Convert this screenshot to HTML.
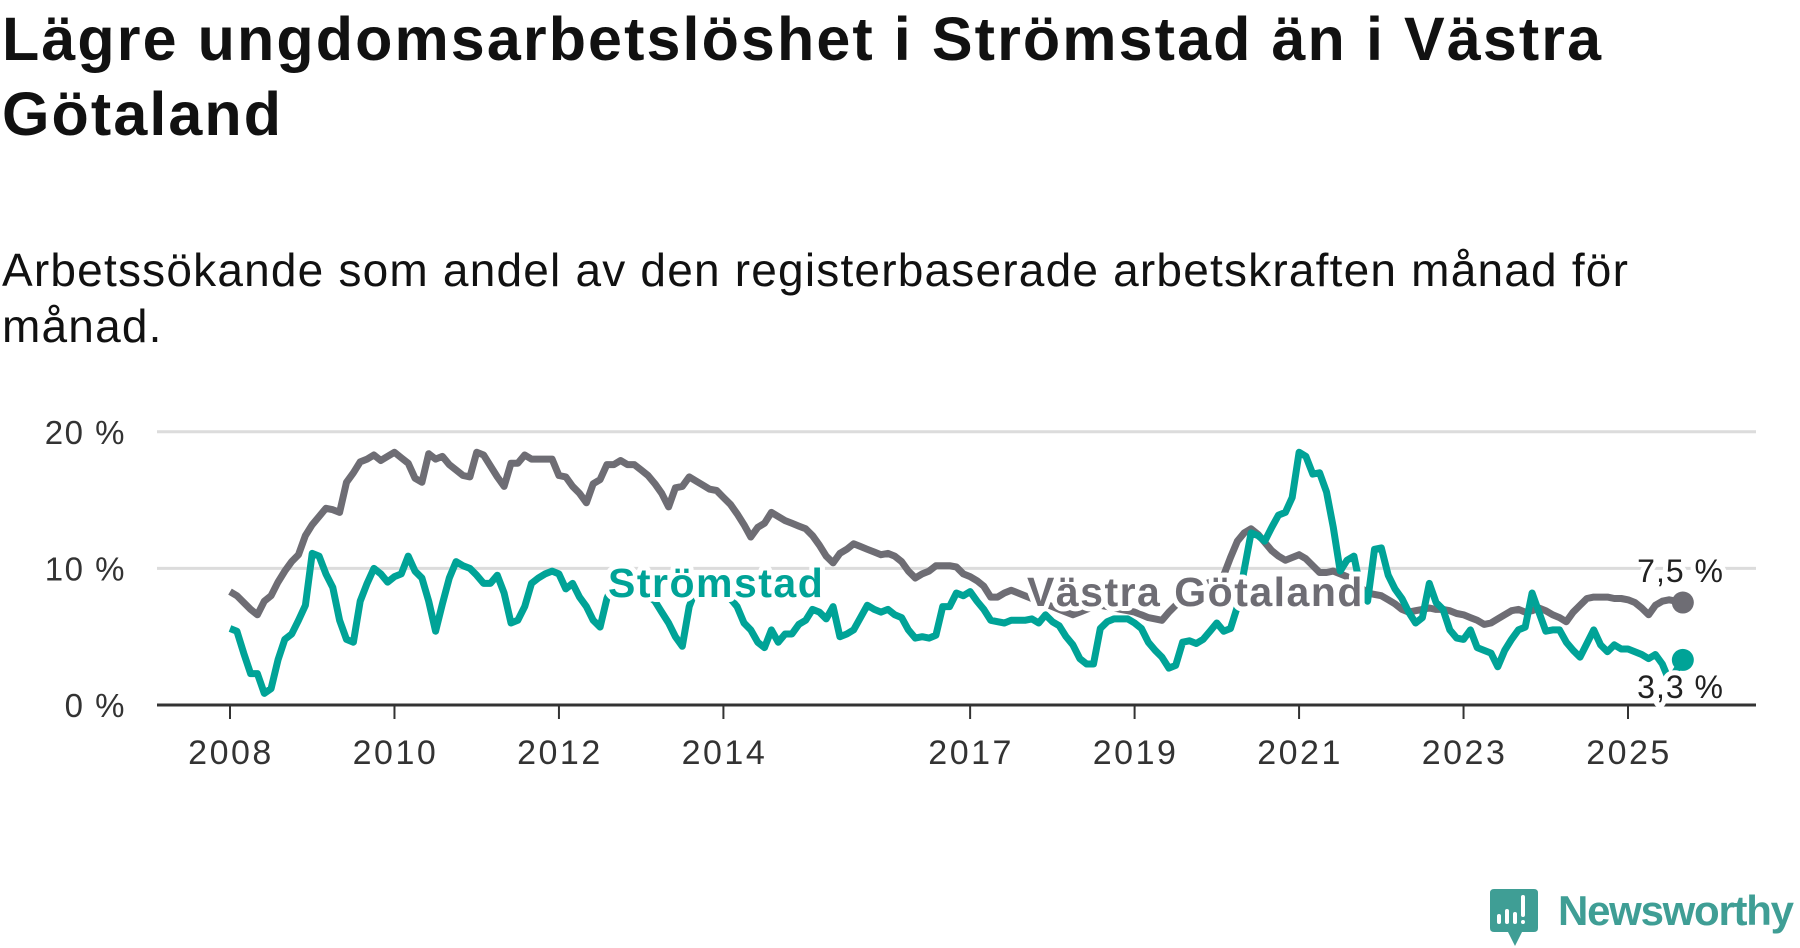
<!DOCTYPE html>
<html><head><meta charset="utf-8">
<style>
html,body{margin:0;padding:0;background:#fff;}
body{width:1800px;height:948px;overflow:hidden;position:relative;font-family:"Liberation Sans",sans-serif;}
#title{position:absolute;left:2px;top:2px;margin:0;font-size:61px;font-weight:bold;line-height:75px;color:#111;width:1790px;letter-spacing:2.1px;white-space:nowrap;}
#subtitle{position:absolute;left:2px;top:242px;margin:0;font-size:46px;font-weight:normal;line-height:56px;color:#111;width:1790px;letter-spacing:1.2px;white-space:nowrap;}
svg{position:absolute;left:0;top:0;}
</style></head>
<body>
<h1 id="title">Lägre ungdomsarbetslöshet i Strömstad än i Västra<br>Götaland</h1>
<p id="subtitle">Arbetssökande som andel av den registerbaserade arbetskraften månad för<br>månad.</p>
<svg id="chart" width="1800" height="948"></svg>
<script>
const yTicks = [0, 10, 20];
const yTickLabels = ["0 %", "10 %", "20 %"];
const xTickYears = [2008, 2010, 2012, 2014, 2017, 2019, 2021, 2023, 2025];
const startYear = 2008;
const vgValues = [
8.3,8.0,7.5,7.0,6.6,7.6,8.0,9.0,9.8,10.5,11.0,12.4,
13.2,13.8,14.4,14.3,14.1,16.3,17.0,17.8,18.0,18.3,17.9,18.2,
18.5,18.1,17.7,16.6,16.3,18.4,18.0,18.2,17.6,17.2,16.8,16.7,
18.5,18.3,17.5,16.7,16.0,17.7,17.7,18.3,18.0,18.0,18.0,18.0,
16.8,16.7,16.0,15.5,14.8,16.2,16.5,17.6,17.6,17.9,17.6,17.6,
17.2,16.8,16.2,15.5,14.5,15.9,16.0,16.7,16.4,16.1,15.8,15.7,
15.2,14.7,14.0,13.2,12.3,13.0,13.3,14.1,13.8,13.5,13.3,13.1,
12.9,12.4,11.7,10.9,10.4,11.1,11.4,11.8,11.6,11.4,11.2,11.0,
11.1,10.9,10.5,9.8,9.3,9.6,9.8,10.2,10.2,10.2,10.1,9.6,
9.4,9.1,8.7,7.9,7.9,8.2,8.4,8.2,8.0,7.8,7.6,7.4,
7.2,7.0,6.8,6.6,6.8,7.0,7.2,7.3,7.2,7.1,7.0,6.9,
6.8,6.6,6.4,6.3,6.2,6.8,7.3,7.8,8.3,8.6,8.8,9.0,
9.2,9.5,10.8,12.0,12.6,12.9,12.5,11.9,11.3,10.9,10.6,10.8,
11.0,10.7,10.2,9.7,9.7,9.8,9.6,9.4,9.0,8.6,8.2,8.1,
8.0,7.7,7.4,7.0,6.8,6.9,7.0,7.1,7.0,7.0,6.9,6.7,
6.6,6.4,6.2,5.9,6.0,6.3,6.6,6.9,7.0,6.8,6.9,7.1,
6.9,6.6,6.4,6.1,6.8,7.3,7.8,7.9,7.9,7.9,7.8,7.8,
7.7,7.5,7.1,6.6,7.3,7.6,7.7,7.6,7.5];
const stValues = [
5.6,5.4,3.8,2.3,2.3,0.85,1.2,3.3,4.8,5.2,6.2,7.3,
11.1,10.9,9.6,8.6,6.2,4.8,4.6,7.6,8.9,10.0,9.6,9.0,
9.4,9.6,10.9,9.8,9.3,7.6,5.4,7.4,9.3,10.5,10.2,10.0,
9.5,8.9,8.9,9.5,8.2,6.0,6.2,7.2,8.9,9.3,9.6,9.8,
9.6,8.5,8.9,7.9,7.2,6.2,5.7,7.8,9.0,9.5,9.5,9.0,
8.5,8.0,7.6,6.8,6.0,5.0,4.3,7.2,8.5,9.3,9.5,9.0,
8.5,7.8,7.2,6.0,5.5,4.6,4.2,5.5,4.6,5.2,5.2,5.9,
6.2,7.0,6.8,6.3,7.2,5.0,5.2,5.5,6.4,7.3,7.0,6.8,
7.0,6.6,6.4,5.5,4.9,5.0,4.9,5.1,7.2,7.2,8.2,8.0,
8.3,7.6,7.0,6.2,6.1,6.0,6.2,6.2,6.2,6.3,6.0,6.6,
6.1,5.8,5.0,4.4,3.4,3.0,3.0,5.6,6.1,6.3,6.3,6.3,
6.0,5.6,4.6,4.0,3.5,2.7,2.9,4.6,4.7,4.5,4.8,5.4,
6.0,5.4,5.6,7.2,9.9,12.6,12.4,12.0,13.0,13.9,14.1,15.2,
18.5,18.2,16.9,17.0,15.6,13.0,9.8,10.6,10.9,8.5,7.6,11.4,
11.5,9.5,8.5,7.8,6.8,6.0,6.4,8.9,7.5,7.0,5.5,4.9,
4.8,5.5,4.2,4.0,3.8,2.8,4.0,4.8,5.5,5.7,8.2,6.8,
5.4,5.5,5.5,4.6,4.0,3.5,4.5,5.5,4.4,3.9,4.4,4.1,
4.1,3.9,3.7,3.4,3.7,3.0,1.8,2.5,3.3];
const endLabels = ["7,5 %", "3,3 %"];

const NS = "http://www.w3.org/2000/svg";
const svg = document.getElementById('chart');
const X0 = 230, PX_PER_MONTH = 6.853, Y0 = 705, PX_PER_UNIT = 13.66;
const PLOT_L = 157, PLOT_R = 1756;
function xScale(m){ return X0 + m * PX_PER_MONTH; }
function yScale(v){ return Y0 - v * PX_PER_UNIT; }
function mk(tag, attrs){ const e=document.createElementNS(NS,tag); for(const k in attrs) e.setAttribute(k,attrs[k]); svg.appendChild(e); return e; }

yTicks.forEach((t,i)=>{
  if(t!==0){
    const g=mk('line',{x1:PLOT_L,x2:PLOT_R,y1:yScale(t),y2:yScale(t),stroke:'#dcdcdc','stroke-width':3});
    
    
  }
  const tx=mk('text',{x:126,y:yScale(t)+12,'text-anchor':'end','font-size':33,'letter-spacing':1.5,fill:'#333','font-family':'Liberation Sans, sans-serif'});
  tx.textContent=yTickLabels[i];
  
  
});
const ax=mk('line',{x1:PLOT_L,x2:PLOT_R,y1:Y0,y2:Y0,stroke:'#333','stroke-width':3});


xTickYears.forEach(yr=>{
  const x=xScale((yr-startYear)*12);
  const tk=mk('line',{x1:x,x2:x,y1:Y0,y2:Y0+14,stroke:'#333','stroke-width':2});
  
  
  const tl=mk('text',{x:x+1,y:764,'text-anchor':'middle','font-size':34,'letter-spacing':2.5,fill:'#333','font-family':'Liberation Sans, sans-serif'});
  tl.textContent=String(yr);
  
  
});
function pathFor(vals){ return vals.map((v,i)=>(i?'L':'M')+xScale(i).toFixed(1)+' '+yScale(v).toFixed(1)).join(' '); }
const vgLine=mk('path',{d:pathFor(vgValues),fill:'none',stroke:'#6e6d74','stroke-width':7,'stroke-linejoin':'round'});


const stLine=mk('path',{d:pathFor(stValues),fill:'none',stroke:'#00a397','stroke-width':7,'stroke-linejoin':'round'});


const lastI=vgValues.length-1;
const d1=mk('circle',{cx:xScale(lastI),cy:yScale(vgValues[lastI]),r:11,fill:'#6e6d74'});


const lastS=stValues.length-1;
const d2=mk('circle',{cx:xScale(lastS),cy:yScale(stValues[lastS]),r:11,fill:'#00a397'});


function label(txt,x,y,size,fill,weight,anchor,ls){
  const t=mk('text',{x:x,y:y,'font-size':size,'letter-spacing':ls,fill:fill,'font-weight':weight,'text-anchor':anchor,stroke:'#fff','stroke-width':10,'stroke-linejoin':'round','paint-order':'stroke','font-family':'Liberation Sans, sans-serif'});
  t.textContent=txt;
  return t;
}
const l1=label('Strömstad',608,597,41,'#00a397','bold','start',1.5);


const l2=label('Västra Götaland',1027,606,41,'#6e6d74','bold','start',1.5);


const l3=label(endLabels[0],1724,582,32,'#222','normal','end',1);


const l4=label(endLabels[1],1724,698,32,'#222','normal','end',1);


</script>
<svg width="1800" height="948" style="position:absolute;left:0;top:0;pointer-events:none">
  <path d="M1494 889 H1534 Q1538 889 1538 893 V928 Q1538 932 1534 932 H1522 L1515 946 L1508 932 H1494 Q1490 932 1490 928 V893 Q1490 889 1494 889 Z" fill="#3f9e95"/>
  <rect x="1497" y="914" width="4" height="10" rx="2" fill="#fff"/>
  <rect x="1505" y="909" width="4" height="15" rx="2" fill="#fff"/>
  <rect x="1513" y="912" width="4" height="12" rx="2" fill="#fff"/>
  <rect x="1521" y="895" width="4" height="22" rx="2" fill="#fff"/>
  <rect x="1521" y="920" width="4" height="4" rx="2" fill="#fff"/>
  <text x="1558" y="925" font-size="42" font-weight="bold" fill="#3f9e95" font-family="Liberation Sans, sans-serif" textLength="236">Newsworthy</text>
</svg>
</body></html>
